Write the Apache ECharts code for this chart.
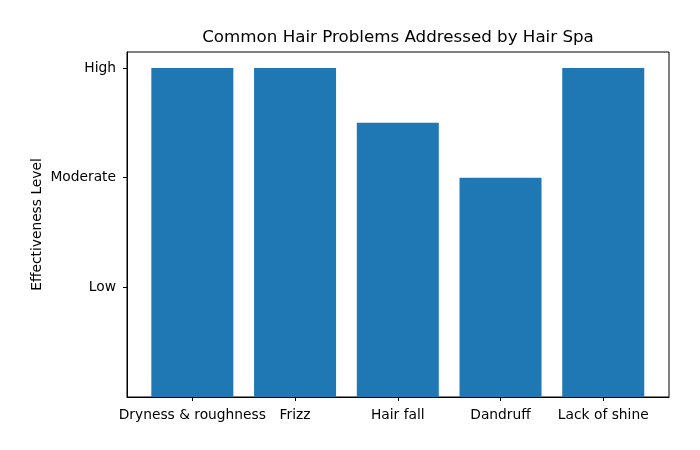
<!DOCTYPE html>
<html>
<head>
<meta charset="utf-8">
<script src="https://cdn.jsdelivr.net/npm/echarts@6/dist/echarts.min.js"></script>
<style>html,body{margin:0;padding:0;background:#fff}#c{width:700px;height:450px}</style>
</head>
<body>
<div id="c"></div>
<script>
const categories = ["Dryness & roughness", "Frizz", "Hair fall", "Dandruff", "Lack of shine"];
const values = [3, 3, 2.5, 2, 3];
const levelTicks = [1, 2, 3];
const levelLabels = ["Low", "Moderate", "High"];

const chart = echarts.init(document.getElementById('c'), null, {renderer: 'canvas'});
const font = 'DejaVu Sans';
const catTicks = categories.map((c, i) => i);
chart.setOption({
  animation: false,
  backgroundColor: '#fff',
  title: {
    text: 'Common Hair Problems Addressed by Hair Spa',
    left: 393, top: 24, textAlign: 'center',
    textStyle: {fontFamily: font, fontSize: 16.7, fontWeight: 'normal', color: '#000'}
  },
  grid: {left: 127, top: 52, width: 542, height: 345, show: true, borderColor: '#000', borderWidth: 1, containLabel: false},
  xAxis: {
    type: 'value', min: -0.636, max: 4.64,
    splitLine: {show: false},
    axisLine: {show: true, onZero: false, lineStyle: {color: '#000'}},
    axisTick: {show: true, inside: false, length: 4, customValues: catTicks, lineStyle: {color: '#000', width: 1}},
    axisLabel: {customValues: catTicks, formatter: v => categories[Math.round(v)] || '',
      fontFamily: font, fontSize: 13.8, color: '#000', margin: 11}
  },
  yAxis: {
    type: 'value', min: 0, max: 3.146,
    name: 'Effectiveness Level', nameLocation: 'middle', nameGap: 83, nameRotate: 90,
    nameMoveOverlap: false,
    nameTextStyle: {fontFamily: font, fontSize: 13.8, color: '#000'},
    splitLine: {show: false},
    axisLine: {show: true, onZero: false, lineStyle: {color: '#000'}},
    axisTick: {show: true, inside: false, length: 4, customValues: levelTicks, lineStyle: {color: '#000', width: 1}},
    axisLabel: {customValues: levelTicks, formatter: v => levelLabels[levelTicks.indexOf(Math.round(v))] || '',
      fontFamily: font, fontSize: 13.8, color: '#000', margin: 11}
  },
  series: [{
    type: 'bar',
    data: values.map((v, i) => [i, v]),
    barWidth: 82,
    itemStyle: {color: '#1f77b4'}
  }]
});
</script>
</body>
</html>
